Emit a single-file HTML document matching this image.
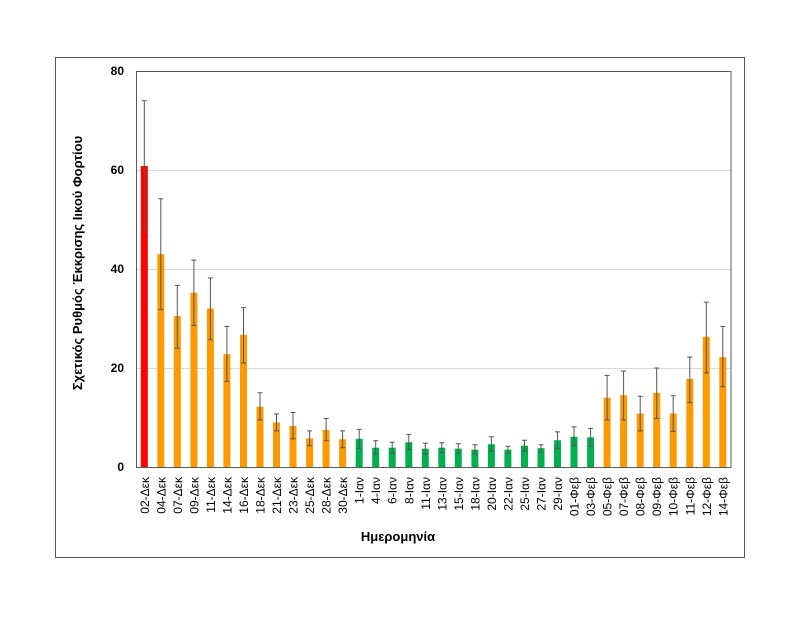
<!DOCTYPE html>
<html><head><meta charset="utf-8"><style>body{margin:0;background:#fff}svg{display:block}text{font-family:"Liberation Sans","DejaVu Sans",sans-serif}</style></head>
<body>
<svg width="800" height="618" xmlns="http://www.w3.org/2000/svg">
<rect x="55.5" y="57.5" width="689" height="500" fill="#fff" stroke="#555" stroke-width="1"/>
<g stroke="#d9d9d9" stroke-width="1">
<line x1="136" x2="731" y1="368.5" y2="368.5"/>
<line x1="136" x2="731" y1="269.5" y2="269.5"/>
<line x1="136" x2="731" y1="170.5" y2="170.5"/>
</g>
<rect x="136.5" y="71.5" width="594.5" height="396" fill="none" stroke="#595959" stroke-width="1"/>
<g font-size="12" font-weight="bold" text-anchor="end" fill="#000">
<text x="124" y="471">0</text><text x="124" y="372">20</text><text x="124" y="273">40</text><text x="124" y="174">60</text><text x="124" y="75">80</text>
</g>
<text transform="translate(82,263) rotate(-90)" font-size="13" font-weight="bold" text-anchor="middle">Σχετικός Ρυθμός Έκκρισης Ιικού Φορτίου</text>
<text x="398" y="541" font-size="13" font-weight="bold" text-anchor="middle">Ημερομηνία</text>
<g transform="matrix(1,0,0,-4.95,0,467)">
<g fill="#ff9900">
<rect x="140.8" y="0" width="7" height="60.8" fill="#ff0000"/>
<rect x="157.3" y="0" width="7" height="43"/>
<rect x="173.8" y="0" width="7" height="30.5"/>
<rect x="190.4" y="0" width="7" height="35.2"/>
<rect x="206.9" y="0" width="7" height="32"/>
<rect x="223.4" y="0" width="7" height="22.8"/>
<rect x="240.0" y="0" width="7" height="26.7"/>
<rect x="256.5" y="0" width="7" height="12.2"/>
<rect x="273.0" y="0" width="7" height="9"/>
<rect x="289.5" y="0" width="7" height="8.3"/>
<rect x="306.1" y="0" width="7" height="5.8"/>
<rect x="322.6" y="0" width="7" height="7.5"/>
<rect x="339.1" y="0" width="7" height="5.6"/>
<g fill="#00b050">
<rect x="355.7" y="0" width="7" height="5.7"/>
<rect x="372.2" y="0" width="7" height="3.9"/>
<rect x="388.7" y="0" width="7" height="3.9"/>
<rect x="405.3" y="0" width="7" height="5"/>
<rect x="421.8" y="0" width="7" height="3.7"/>
<rect x="438.3" y="0" width="7" height="3.9"/>
<rect x="454.8" y="0" width="7" height="3.7"/>
<rect x="471.4" y="0" width="7" height="3.5"/>
<rect x="487.9" y="0" width="7" height="4.6"/>
<rect x="504.4" y="0" width="7" height="3.5"/>
<rect x="521.0" y="0" width="7" height="4.3"/>
<rect x="537.5" y="0" width="7" height="3.8"/>
<rect x="554.0" y="0" width="7" height="5.4"/>
<rect x="570.5" y="0" width="7" height="6.1"/>
<rect x="587.1" y="0" width="7" height="6"/>
</g>
<rect x="603.6" y="0" width="7" height="14"/>
<rect x="620.1" y="0" width="7" height="14.5"/>
<rect x="636.7" y="0" width="7" height="10.8"/>
<rect x="653.2" y="0" width="7" height="15"/>
<rect x="669.7" y="0" width="7" height="10.8"/>
<rect x="686.3" y="0" width="7" height="17.8"/>
<rect x="702.8" y="0" width="7" height="26.3"/>
<rect x="719.3" y="0" width="7" height="22.2"/>
</g>
<path fill="none" stroke="#555" stroke-width="1" vector-effect="non-scaling-stroke" d="
M144.3 47.5V74M141.8 74H146.8M141.8 47.5H146.8
M160.8 31.8V54.2M158.3 54.2H163.3M158.3 31.8H163.3
M177.3 24V36.7M174.8 36.7H179.8M174.8 24H179.8
M193.9 28.6V41.8M191.4 41.8H196.4M191.4 28.6H196.4
M210.4 25.7V38.2M207.9 38.2H212.9M207.9 25.7H212.9
M226.9 17.3V28.4M224.4 28.4H229.4M224.4 17.3H229.4
M243.5 21V32.2M241 32.2H246M241 21H246
M260 9.5V15M257.5 15H262.5M257.5 9.5H262.5
M276.5 7.3V10.7M274 10.7H279M274 7.3H279
M293 5.7V11M290.5 11H295.5M290.5 5.7H295.5
M309.6 4.3V7.3M307.1 7.3H312.1M307.1 4.3H312.1
M326.1 5.3V9.8M323.6 9.8H328.6M323.6 5.3H328.6
M342.6 3.9V7.3M340.1 7.3H345.1M340.1 3.9H345.1
M359.2 3.8V7.6M356.7 7.6H361.7M356.7 3.8H361.7
M375.7 2.6V5.3M373.2 5.3H378.2M373.2 2.6H378.2
M392.2 2.8V5M389.7 5H394.7M389.7 2.8H394.7
M408.8 3.5V6.6M406.3 6.6H411.3M406.3 3.5H411.3
M425.3 2.6V4.8M422.8 4.8H427.8M422.8 2.6H427.8
M441.8 2.9V4.9M439.3 4.9H444.3M439.3 2.9H444.3
M458.3 2.7V4.7M455.8 4.7H460.8M455.8 2.7H460.8
M474.9 2.6V4.5M472.4 4.5H477.4M472.4 2.6H477.4
M491.4 3.2V6.1M488.9 6.1H493.9M488.9 3.2H493.9
M507.9 2.8V4.2M505.4 4.2H510.4M505.4 2.8H510.4
M524.5 3.2V5.4M522 5.4H527M522 3.2H527
M541 3V4.5M538.5 4.5H543.5M538.5 3H543.5
M557.5 3.7V7.1M555 7.1H560M555 3.7H560
M574 4.3V8.1M571.5 8.1H576.5M571.5 4.3H576.5
M590.6 4.2V7.8M588.1 7.8H593.1M588.1 4.2H593.1
M607.1 9.5V18.5M604.6 18.5H609.6M604.6 9.5H609.6
M623.6 9.5V19.4M621.1 19.4H626.1M621.1 9.5H626.1
M640.2 7.3V14.3M637.7 14.3H642.7M637.7 7.3H642.7
M656.7 9.8V20M654.2 20H659.2M654.2 9.8H659.2
M673.2 7.2V14.4M670.7 14.4H675.7M670.7 7.2H675.7
M689.8 13V22.2M687.3 22.2H692.3M687.3 13H692.3
M706.3 19V33.3M703.8 33.3H708.8M703.8 19H708.8
M722.8 16.2V28.4M720.3 28.4H725.3M720.3 16.2H725.3"/>
</g>
<g font-size="12" text-anchor="end" fill="#000">
<text transform="translate(148.8,477) rotate(-90)">02-Δεκ</text>
<text transform="translate(165.3,477) rotate(-90)">04-Δεκ</text>
<text transform="translate(181.8,477) rotate(-90)">07-Δεκ</text>
<text transform="translate(198.4,477) rotate(-90)">09-Δεκ</text>
<text transform="translate(214.9,477) rotate(-90)">11-Δεκ</text>
<text transform="translate(231.4,477) rotate(-90)">14-Δεκ</text>
<text transform="translate(248,477) rotate(-90)">16-Δεκ</text>
<text transform="translate(264.5,477) rotate(-90)">18-Δεκ</text>
<text transform="translate(281,477) rotate(-90)">21-Δεκ</text>
<text transform="translate(297.5,477) rotate(-90)">23-Δεκ</text>
<text transform="translate(314.1,477) rotate(-90)">25-Δεκ</text>
<text transform="translate(330.6,477) rotate(-90)">28-Δεκ</text>
<text transform="translate(347.1,477) rotate(-90)">30-Δεκ</text>
<text transform="translate(363.7,477) rotate(-90)">1-Ιαν</text>
<text transform="translate(380.2,477) rotate(-90)">4-Ιαν</text>
<text transform="translate(396.7,477) rotate(-90)">6-Ιαν</text>
<text transform="translate(413.3,477) rotate(-90)">8-Ιαν</text>
<text transform="translate(429.8,477) rotate(-90)">11-Ιαν</text>
<text transform="translate(446.3,477) rotate(-90)">13-Ιαν</text>
<text transform="translate(462.8,477) rotate(-90)">15-Ιαν</text>
<text transform="translate(479.4,477) rotate(-90)">18-Ιαν</text>
<text transform="translate(495.9,477) rotate(-90)">20-Ιαν</text>
<text transform="translate(512.4,477) rotate(-90)">22-Ιαν</text>
<text transform="translate(529,477) rotate(-90)">25-Ιαν</text>
<text transform="translate(545.5,477) rotate(-90)">27-Ιαν</text>
<text transform="translate(562,477) rotate(-90)">29-Ιαν</text>
<text transform="translate(578.5,477) rotate(-90)">01-Φεβ</text>
<text transform="translate(595.1,477) rotate(-90)">03-Φεβ</text>
<text transform="translate(611.6,477) rotate(-90)">05-Φεβ</text>
<text transform="translate(628.1,477) rotate(-90)">07-Φεβ</text>
<text transform="translate(644.7,477) rotate(-90)">08-Φεβ</text>
<text transform="translate(661.2,477) rotate(-90)">09-Φεβ</text>
<text transform="translate(677.7,477) rotate(-90)">10-Φεβ</text>
<text transform="translate(694.3,477) rotate(-90)">11-Φεβ</text>
<text transform="translate(710.8,477) rotate(-90)">12-Φεβ</text>
<text transform="translate(727.3,477) rotate(-90)">14-Φεβ</text>
</g>
</svg>
</body></html>
